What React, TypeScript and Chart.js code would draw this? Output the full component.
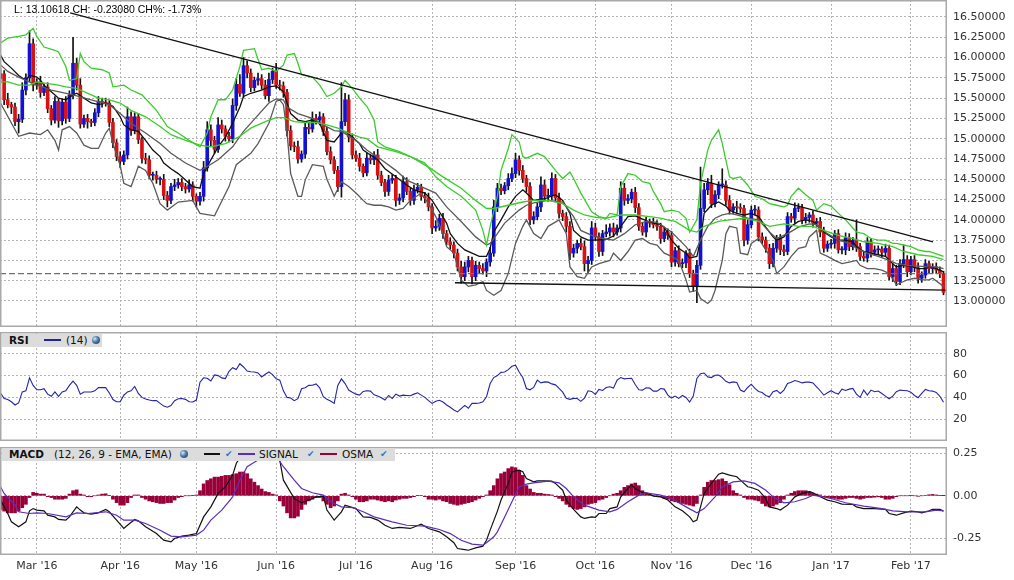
import React, { useEffect, useRef } from 'react';
import { Chart, registerables } from 'chart.js';

Chart.register(...registerables);

const FONT = 'DejaVu Sans';
const GRID = '#b4b4b4';
const BLUE = '#1212d4';
const RED = '#d81212';
const GREEN = '#3acc2c';

// USD/ZAR daily candles, one per weekday, 16 Feb 2016 .. 14 Feb 2017
const firstOpen = 15.74;
const closes = [
  15.80, 15.48, 15.42, 15.39, 15.21, 15.24, 15.60, 15.75, 16.17, 15.66,
  15.70, 15.57, 15.64, 15.37, 15.23, 15.46, 15.22, 15.45, 15.25, 15.54,
  15.93, 15.66, 15.18, 15.25, 15.21, 15.20, 15.32, 15.46, 15.45, 15.44,
  15.20, 14.95, 14.78, 14.72, 14.80, 15.27, 15.10, 15.27, 14.99, 14.76,
  14.74, 14.55, 14.55, 14.50, 14.50, 14.30, 14.24, 14.41, 14.43, 14.46,
  14.41, 14.38, 14.43, 14.29, 14.23, 14.29, 14.64, 15.11, 14.98, 14.87,
  15.17, 15.12, 15.03, 15.00, 15.41, 15.67, 15.56, 15.90, 15.81, 15.63,
  15.72, 15.74, 15.66, 15.53, 15.73, 15.83, 15.66, 15.65, 15.57, 15.10,
  14.91, 14.90, 14.75, 14.81, 15.14, 15.12, 15.25, 15.23, 15.27, 15.09,
  14.84, 14.74, 14.61, 14.41, 15.21, 15.48, 15.02, 14.80, 14.76, 14.66,
  14.58, 14.76, 14.74, 14.80, 14.55, 14.46, 14.35, 14.49, 14.51, 14.24,
  14.27, 14.47, 14.35, 14.24, 14.37, 14.40, 14.29, 14.27, 14.16, 13.90,
  13.92, 14.02, 13.83, 13.73, 13.69, 13.59, 13.42, 13.30, 13.42, 13.50,
  13.30, 13.44, 13.40, 13.37, 13.48, 13.59, 14.16, 14.39, 14.36, 14.42,
  14.51, 14.57, 14.74, 14.61, 14.51, 14.41, 14.00, 14.04, 14.16, 14.43,
  14.29, 14.30, 14.51, 14.27, 14.08, 14.04, 13.92, 13.59, 13.65, 13.71,
  13.67, 13.46, 13.50, 13.90, 13.79, 13.61, 13.83, 13.85, 13.90, 13.85,
  13.90, 14.39, 14.24, 14.26, 14.34, 14.15, 13.92, 13.85, 13.98, 13.96,
  13.94, 13.92, 13.77, 13.85, 13.81, 13.48, 13.62, 13.46, 13.47, 13.59,
  13.34, 13.18, 13.44, 14.14, 14.37, 14.45, 14.20, 14.31, 14.43, 14.43,
  14.24, 14.12, 14.16, 14.15, 14.14, 13.75, 13.94, 14.12, 14.12, 13.79,
  13.75, 13.65, 13.46, 13.65, 13.77, 13.63, 13.61, 14.04, 14.02, 14.14,
  14.15, 14.00, 14.03, 14.06, 13.96, 13.98, 13.85, 13.65, 13.70, 13.71,
  13.83, 13.63, 13.63, 13.78, 13.67, 13.75, 13.67, 13.55, 13.53, 13.73,
  13.60, 13.63, 13.64, 13.60, 13.65, 13.30, 13.40, 13.24, 13.46, 13.51,
  13.36, 13.51, 13.41, 13.28, 13.32, 13.46, 13.40, 13.42, 13.38, 13.33698,
  13.10618,
];
// wick lengths above / below the body, in hundredths
const upWick = [
  6, 4, 8, 3, 5, 6, 9, 5, 16, 6, 4, 7, 3, 5, 4, 6, 3, 4, 7, 5,
  32, 6, 8, 4, 5, 3, 5, 6, 4, 5, 3, 5, 4, 6, 5, 12, 6, 5, 4, 3,
  6, 5, 4, 5, 3, 6, 5, 4, 7, 5, 5, 4, 6, 4, 3, 5, 8, 10, 6, 5,
  9, 6, 4, 5, 8, 7, 12, 10, 6, 5, 4, 7, 5, 6, 8, 4, 10, 6, 5, 4,
  6, 5, 7, 4, 6, 5, 8, 5, 6, 4, 5, 6, 4, 5, 48, 8, 6, 4, 5, 6,
  3, 6, 5, 4, 7, 5, 4, 6, 5, 4, 5, 7, 5, 4, 6, 5, 4, 5, 6, 4,
  7, 5, 6, 4, 5, 4, 5, 7, 6, 5, 4, 5, 4, 6, 4, 7, 8, 6, 5, 4,
  6, 7, 8, 5, 6, 4, 5, 6, 5, 10, 6, 8, 7, 5, 6, 4, 5, 6, 5, 4,
  6, 7, 5, 8, 6, 5, 4, 9, 5, 6, 4, 8, 6, 5, 4, 6, 5, 4, 5, 3,
  6, 5, 4, 6, 4, 5, 4, 6, 5, 3, 5, 4, 6, 51, 8, 6, 10, 5, 4, 20,
  5, 6, 4, 7, 5, 4, 6, 5, 6, 4, 5, 4, 5, 6, 4, 5, 6, 5, 4, 7,
  5, 4, 5, 3, 5, 4, 5, 6, 4, 5, 4, 5, 4, 6, 5, 3, 25, 4, 6, 5,
  4, 5, 4, 3, 5, 4, 6, 4, 5, 18, 5, 4, 5, 6, 4, 5, 3, 4, 5, 4,
  3,
];
const downWick = [
  5, 6, 4, 8, 5, 14, 4, 6, 5, 7, 5, 6, 4, 5, 6, 4, 8, 5, 6, 4,
  5, 6, 5, 4, 8, 5, 4, 5, 6, 4, 5, 6, 5, 8, 4, 5, 6, 4, 5, 6,
  5, 4, 6, 5, 7, 5, 8, 4, 5, 4, 5, 5, 4, 6, 7, 5, 6, 4, 7, 5,
  4, 5, 6, 4, 5, 6, 4, 5, 6, 5, 4, 6, 5, 4, 7, 5, 4, 5, 6, 7,
  5, 6, 5, 4, 5, 6, 4, 5, 6, 5, 4, 5, 4, 6, 13, 5, 6, 5, 4, 6,
  5, 4, 5, 6, 5, 4, 6, 5, 4, 7, 5, 5, 4, 6, 5, 4, 5, 6, 5, 7,
  4, 5, 6, 4, 5, 6, 5, 8, 5, 6, 9, 5, 6, 4, 7, 5, 4, 6, 5, 4,
  5, 4, 5, 6, 5, 7, 6, 5, 4, 6, 5, 6, 5, 4, 6, 5, 7, 8, 5, 6,
  4, 9, 12, 5, 4, 6, 5, 4, 5, 6, 4, 5, 6, 4, 5, 6, 5, 4, 6, 5,
  4, 5, 6, 4, 5, 6, 5, 4, 5, 6, 5, 6, 20, 5, 4, 6, 5, 4, 5, 4,
  6, 5, 4, 6, 5, 7, 5, 4, 6, 5, 4, 5, 6, 4, 5, 6, 5, 4, 5, 6,
  4, 5, 4, 6, 5, 4, 6, 5, 4, 5, 6, 4, 5, 6, 5, 4, 6, 5, 4, 5,
  6, 4, 5, 6, 5, 4, 6, 5, 4, 5, 6, 4, 5, 6, 5, 4, 5, 6, 4, 5,
  3,
];

const monthDays = [10, 33, 54, 76, 98, 119, 142, 164, 185, 207, 229, 251];
const monthLabels = ["Mar '16", "Apr '16", "May '16", "Jun '16", "Jul '16", "Aug '16", "Sep '16", "Oct '16", "Nov '16", "Dec '16", "Jan '17", "Feb '17"];
const priceTicks = [13, 13.25, 13.5, 13.75, 14, 14.25, 14.5, 14.75, 15, 15.25, 15.5, 15.75, 16, 16.25, 16.5];
const rsiTicks = [20, 40, 60, 80];
const macdTicks = [-0.25, 0, 0.25];

const prevClose = 13.33698;
const lastClose = 13.10618;

// envelope lines on the price panel (day index, value)
const greenUpperDays = [0,2,5,7,9,10,12,15,16,18,19,21,22,23,25,28,30,31,34,36,39,43,46,49,52,55,57,58,60,62,64,66,67,70,72,74,76,78,79,81,82,83,86,88,90,92,94,95,97,99,101,103,104,106,110,113,117,120,123,127,131,133,134,135,137,138,140,141,143,144,145,148,150,153,155,157,158,160,163,165,167,168,170,171,173,175,177,179,180,182,183,185,187,189,190,192,193,195,196,198,199,201,202,204,206,208,210,212,214,216,217,218,220,222,224,225,227,229,231,233,235,236,238,240,242,244,246,247,249,251,253,255,256,258,260];
const greenUpper = [16.18,16.24,16.26,16.28,16.36,16.26,16.13,16.09,16.07,15.89,15.72,15.74,16.05,15.95,15.87,15.85,15.81,15.64,15.66,15.60,15.54,15.35,15.15,15.07,14.98,14.90,15.07,15.27,15.48,15.48,15.60,15.89,16.09,16.11,15.85,15.87,15.83,15.91,16.03,16.05,15.93,15.79,15.76,15.66,15.52,15.56,15.64,15.72,15.62,15.50,15.40,15.23,14.96,14.90,14.84,14.78,14.70,14.53,14.41,14.29,14.12,13.87,13.69,13.92,14.29,14.61,14.88,15.05,14.96,14.78,14.76,14.82,14.78,14.61,14.51,14.59,14.51,14.33,14.10,14.04,14.02,14.08,14.06,14.41,14.57,14.55,14.47,14.45,14.35,14.20,14.10,14.12,14.10,14.02,13.85,14.00,14.45,14.86,14.98,15.11,14.94,14.53,14.51,14.53,14.43,14.29,14.26,14.20,14.18,14.16,14.18,14.29,14.39,14.31,14.24,14.12,14.20,14.17,14.08,14.00,13.90,13.85,13.83,13.77,13.75,13.75,13.71,13.71,13.69,13.67,13.63,13.61,13.61,13.58,13.55];

const greenMidDays = [0,2,5,8,10,13,16,18,21,23,27,30,33,36,40,44,47,51,55,58,62,66,69,73,76,78,81,84,87,90,93,96,99,101,104,109,113,118,122,127,131,134,136,140,144,147,151,155,158,161,164,167,171,175,179,182,184,186,190,192,194,198,201,205,209,212,216,220,224,227,231,235,238,242,246,249,253,257,260];
const greenMid = [15.70,15.70,15.66,15.66,15.70,15.68,15.66,15.64,15.62,15.58,15.50,15.48,15.44,15.35,15.27,15.15,15.05,14.98,14.92,14.90,14.94,15.03,15.13,15.21,15.26,15.26,15.21,15.20,15.20,15.17,15.13,15.07,15.02,15.00,14.90,14.84,14.78,14.65,14.53,14.39,14.24,14.14,14.14,14.18,14.22,14.24,14.24,14.20,14.12,14.06,14.03,14.02,14.06,14.06,14.04,14.02,14.00,13.98,13.87,13.85,13.92,13.98,14.00,14.02,13.98,13.92,13.95,13.92,13.92,13.87,13.81,13.77,13.73,13.71,13.67,13.61,13.57,13.55,13.51];

const blackDays = [0,1,3,5,7,8,10,11,12,14,16,18,20,21,23,25,27,29,31,33,34,36,38,40,42,44,45,47,49,51,53,55,56,58,60,62,64,66,67,69,72,74,76,78,79,80,82,84,86,88,90,92,94,95,97,99,100,102,104,106,109,112,114,117,119,121,123,124,126,128,130,132,134,135,136,138,140,142,144,145,147,150,153,155,157,158,160,162,164,167,169,171,173,175,178,180,182,183,185,187,189,190,192,193,194,196,198,200,201,203,205,207,209,211,213,214,216,218,220,222,224,225,227,229,231,233,235,236,238,240,242,244,246,247,249,251,253,255,256,258,260];
const blackLine = [16.03,15.95,15.87,15.78,15.72,15.78,15.76,15.72,15.66,15.58,15.50,15.48,15.54,15.56,15.50,15.44,15.42,15.44,15.40,15.27,15.17,15.11,15.09,14.98,14.86,14.78,14.70,14.63,14.57,14.49,14.41,14.39,14.57,14.74,14.90,15.02,15.19,15.39,15.52,15.56,15.60,15.64,15.65,15.58,15.44,15.31,15.23,15.21,15.23,15.19,14.98,14.96,15.07,15.09,15.02,14.94,14.86,14.80,14.74,14.63,14.53,14.43,14.37,14.33,14.24,14.10,13.96,13.83,13.71,13.63,13.59,13.55,13.55,13.65,13.85,14.00,14.16,14.29,14.37,14.33,14.24,14.26,14.31,14.24,14.08,13.87,13.79,13.75,13.75,13.76,13.80,13.92,14.04,14.05,13.99,13.96,13.94,13.91,13.75,13.65,13.59,13.53,13.55,13.75,14.08,14.18,14.22,14.17,14.12,14.08,14.06,14.08,14.04,13.91,13.79,13.75,13.79,13.92,13.98,14.00,13.98,13.94,13.85,13.79,13.75,13.75,13.73,13.67,13.61,13.59,13.57,13.55,13.46,13.42,13.44,13.43,13.40,13.40,13.42,13.40,13.36];

const grayMidDays = [0,2,5,9,14,20,25,30,33,36,40,44,47,51,55,56,60,64,67,71,74,76,78,79,82,86,89,92,94,98,101,105,109,112,116,120,123,127,131,134,135,137,139,141,143,145,147,151,155,158,160,163,166,169,172,175,178,181,185,189,191,193,195,197,199,201,203,206,209,212,214,217,220,223,225,228,231,234,236,239,242,245,247,250,253,256,258,260];
const grayMid = [15.91,15.83,15.76,15.68,15.60,15.54,15.48,15.42,15.31,15.19,15.07,14.94,14.82,14.70,14.61,14.63,14.74,14.90,15.09,15.29,15.44,15.49,15.48,15.39,15.31,15.25,15.17,15.10,15.09,14.98,14.86,14.74,14.61,14.49,14.41,14.33,14.16,13.98,13.79,13.69,13.71,13.83,13.96,14.04,14.12,14.18,14.21,14.24,14.22,14.04,13.87,13.81,13.77,13.75,13.83,13.94,13.98,13.97,13.85,13.67,13.55,13.75,13.92,14.02,14.06,14.08,14.06,14.02,14.00,13.85,13.77,13.83,13.91,13.95,13.94,13.83,13.75,13.71,13.65,13.59,13.55,13.50,13.46,13.44,13.43,13.42,13.42,13.40];

const grayLowerDays = [0,5,8,11,13,15,16,17,19,21,23,25,27,29,30,31,33,34,36,37,38,40,42,44,46,49,53,55,59,63,65,69,71,74,76,77,78,79,80,82,83,84,86,89,90,92,94,96,98,100,101,103,105,107,109,111,113,116,118,120,122,123,125,127,129,131,133,134,136,138,140,142,144,145,147,149,151,154,156,157,159,161,163,165,168,169,171,173,175,177,179,181,183,185,187,189,190,192,193,195,196,197,199,200,201,203,204,206,207,209,211,213,214,216,218,220,222,223,225,226,228,230,232,234,236,237,239,241,243,245,247,249,250,252,254,256,257,260];
const grayLower = [15.44,15.03,15.07,15.05,15.11,14.98,14.86,15.11,15.15,15.07,14.92,14.88,14.88,15.07,15.13,14.94,14.67,14.45,14.41,14.53,14.66,14.61,14.45,14.20,14.12,14.22,14.24,14.08,14.05,14.41,14.68,14.82,14.94,15.19,15.46,15.48,15.42,15.07,14.57,14.29,14.29,14.49,14.68,14.66,14.50,14.29,14.47,14.41,14.33,14.24,14.20,14.18,14.18,14.16,14.12,14.14,14.24,14.33,14.20,14.04,13.83,13.67,13.59,13.26,13.18,13.20,13.24,13.13,13.07,13.13,13.34,13.71,13.92,14.00,13.83,13.77,13.92,14.00,13.83,13.42,13.30,13.28,13.42,13.46,13.50,13.59,13.50,13.61,13.75,13.77,13.71,13.69,13.59,13.55,13.50,13.26,13.11,13.13,13.03,12.97,13.01,13.13,13.50,13.83,13.92,13.90,13.59,13.57,13.71,13.77,13.63,13.50,13.34,13.42,13.55,13.65,13.67,13.79,13.87,13.59,13.55,13.50,13.46,13.48,13.50,13.44,13.40,13.40,13.38,13.34,13.20,13.24,13.26,13.28,13.26,13.26,13.28,13.18];

// trend lines drawn on the chart
const upperTrendDays = [19.2, 257.1];
const upperTrend = [16.55, 13.73];
const lowerTrendDays = [125.3, 261];
const lowerTrend = [13.225, 13.135];

// RSI (14), one value per day
const rsi = [
  44, 39, 38, 36, 33, 35, 45, 46, 58, 51, 47, 47, 48, 43, 41, 45, 41, 45, 46, 51,
  55, 51, 43, 45, 45, 45, 46, 49, 49, 49, 44, 38, 36, 36, 42, 45, 46, 50, 43.6, 40,
  38.5, 37.6, 37, 37, 34.5, 32, 31, 32.5, 37, 38.8, 39, 38.2, 36, 35.8, 37.6, 54, 58, 57.6, 55, 60.6,
  60, 57.9, 57.3, 64, 67.3, 65.5, 70.9, 67.9, 64.2, 63.6, 63.3, 62.4, 58.8, 61.2, 63.3, 60.9, 57, 55.8, 46, 40,
  39.4, 37, 38.8, 47.9, 48.8, 51, 51.2, 52.4, 48.8, 40.6, 38.2, 36.7, 34.5, 51, 57, 52.7, 46.7, 44.8, 43, 42.1,
  45.5, 46.1, 45.8, 42.4, 41.2, 39.7, 37.6, 41.8, 39.1, 43, 41.2, 42.1, 41.8, 41.5, 43, 44.2, 42.1, 40, 37, 34.5,
  36.4, 37.3, 35.8, 33, 30.9, 28.5, 26.7, 29.7, 32.7, 30, 34.5, 34.5, 34.8, 36, 40.6, 52.7, 58.2, 60, 63, 63.3,
  65.5, 68.5, 69.5, 63.3, 58.2, 48.2, 47, 49.1, 55.8, 53.3, 54.2, 54, 52.4, 51.5, 48.2, 44.8, 39.1, 38.2, 39.1, 39,
  36.4, 39.4, 46.1, 45.5, 42.7, 47.3, 46.4, 49.1, 49.7, 48.5, 55.8, 58.2, 57, 57.3, 57.6, 51.8, 47, 46.7, 48.8, 48.5,
  45.8, 45.8, 48.2, 47.6, 42.1, 39.4, 41.2, 39.1, 41.8, 40, 35.8, 41.2, 57.3, 61.8, 62.4, 58.8, 58.2, 60.3, 60.6, 58.2,
  54.8, 53.3, 54.2, 53.6, 46.7, 45.2, 49.1, 52.1, 48.2, 45.5, 44.5, 41.8, 40.6, 45.2, 46.4, 43.6, 46.7, 52.7, 54, 55.5,
  54.5, 53.3, 54, 54, 53.3, 49.7, 46.1, 42.1, 44.2, 46.1, 44.2, 43, 47.6, 46.4, 47.6, 48.2, 43, 40, 46.7, 42.1,
  46.7, 45.2, 45.8, 43.6, 41.2, 38.8, 41.2, 45.2, 46.7, 46.4, 46.1, 44.8, 41.8, 39.7, 43.6, 47.3, 46.1, 45.8, 44.5, 41,
  35.5,
];

// MACD (12, 26, 9)
const macdDays = [0,2,3,5,7,8,9,10,12,13,15,16,18,19,21,22,23,25,27,29,30,32,34,35,37,38,40,43,45,47,48,50,52,54,56,58,60,62,64,65,67,69,72,73,75,77,78,81,83,85,87,89,90,92,94,95,98,100,102,104,106,108,110,113,116,118,121,123,125,126,128,129,131,133,134,135,137,138,140,141,143,144,145,147,148,150,152,153,155,156,158,160,161,163,164,165,167,168,170,171,173,174,175,177,178,180,182,184,186,188,190,191,192,193,194,196,198,199,201,203,204,206,207,209,211,212,214,215,217,219,221,223,224,226,228,230,232,235,236,238,241,244,245,247,249,251,253,254,256,257,259,260];
const macdLine = [-0.025,-0.104,-0.153,-0.182,-0.153,-0.088,-0.075,-0.084,-0.088,-0.114,-0.124,-0.139,-0.143,-0.124,-0.065,-0.084,-0.100,-0.108,-0.100,-0.080,-0.094,-0.143,-0.192,-0.173,-0.139,-0.147,-0.182,-0.222,-0.261,-0.271,-0.251,-0.237,-0.231,-0.222,-0.124,-0.065,0.014,0.053,0.122,0.190,0.259,0.265,0.249,0.245,0.229,0.210,0.092,-0.016,-0.041,-0.025,-0.006,-0.002,-0.084,-0.143,-0.094,-0.055,-0.075,-0.124,-0.127,-0.143,-0.173,-0.192,-0.186,-0.192,-0.167,-0.192,-0.212,-0.241,-0.276,-0.310,-0.316,-0.320,-0.306,-0.296,-0.261,-0.202,-0.090,-0.025,0.073,0.141,0.151,0.141,0.102,0.082,0.088,0.088,0.086,0.073,0.033,-0.025,-0.080,-0.124,-0.133,-0.124,-0.127,-0.104,-0.104,-0.075,-0.065,-0.006,0.043,0.063,0.043,0.018,0.018,-0.002,-0.006,-0.025,-0.065,-0.088,-0.124,-0.153,-0.143,-0.065,0.014,0.073,0.127,0.135,0.122,0.112,0.092,0.053,0.049,0.033,-0.016,-0.065,-0.075,-0.084,-0.055,-0.006,0.014,0.024,0.018,-0.006,-0.025,-0.035,-0.049,-0.051,-0.065,-0.075,-0.075,-0.080,-0.104,-0.114,-0.100,-0.090,-0.094,-0.100,-0.088,-0.080,-0.080,-0.090];
const signalDays = [0,1,4,5,8,10,13,18,21,24,29,32,34,37,40,44,47,50,54,56,58,61,64,66,68,71,74,76,78,81,83,86,89,91,94,97,100,103,108,112,117,121,124,127,130,133,134,136,137,139,141,143,145,147,151,154,156,158,161,165,168,170,173,176,178,182,185,189,192,194,197,199,202,205,208,211,213,216,219,222,224,229,233,238,243,246,250,255,258,260];
const signalLine = [0.053,0.014,-0.055,-0.094,-0.104,-0.100,-0.104,-0.124,-0.100,-0.104,-0.094,-0.114,-0.143,-0.143,-0.163,-0.202,-0.237,-0.241,-0.231,-0.202,-0.143,-0.084,-0.006,0.092,0.171,0.210,0.229,0.233,0.171,0.092,0.043,0.018,0.004,-0.035,-0.065,-0.069,-0.094,-0.124,-0.153,-0.173,-0.178,-0.198,-0.222,-0.261,-0.284,-0.290,-0.276,-0.241,-0.212,-0.124,-0.035,0.053,0.069,0.076,0.086,0.076,0.043,-0.006,-0.055,-0.084,-0.094,-0.080,-0.035,0.004,0.018,0.004,-0.016,-0.065,-0.100,-0.075,-0.006,0.053,0.082,0.088,0.073,0.033,-0.006,-0.041,-0.035,-0.016,0.004,-0.016,-0.041,-0.061,-0.075,-0.088,-0.094,-0.094,-0.084,-0.088];
// OSMA histogram, one bar per day
const osma = [
  -0.08, -0.09, -0.1, -0.1, -0.1, -0.09, -0.07, -0.05, -0.01, 0.02, 0.015, 0.01, 0.01, -0.005, -0.01, -0.02, -0.02, -0.02, -0.015, 0.01,
  0.03, 0.035, 0.01, 0.005, -0.005, -0.005, 0, 0.005, 0.01, 0.012, 0.002, -0.02, -0.04, -0.055, -0.055, -0.04, -0.01, 0.005, 0.005, -0.01,
  -0.02, -0.03, -0.035, -0.04, -0.045, -0.045, -0.04, -0.04, -0.025, -0.01, -0.005, 0, 0, 0.002, 0.005, 0.03, 0.07, 0.09, 0.1, 0.11,
  0.11, 0.115, 0.12, 0.12, 0.125, 0.13, 0.14, 0.14, 0.13, 0.1, 0.08, 0.06, 0.04, 0.025, 0.02, 0.01, 0.005, -0.03, -0.06, -0.1,
  -0.13, -0.13, -0.12, -0.08, -0.05, -0.03, -0.02, -0.01, -0.01, -0.03, -0.05, -0.07, -0.06, -0.03, 0.01, 0.015, 0.005, -0.005, -0.02, -0.035,
  -0.035, -0.03, -0.02, -0.02, -0.025, -0.03, -0.035, -0.03, -0.035, -0.025, -0.02, -0.015, -0.015, -0.01, -0.005, 0.002, 0.003, -0.005, -0.02, -0.02,
  -0.025, -0.02, -0.03, -0.035, -0.045, -0.05, -0.055, -0.05, -0.045, -0.04, -0.035, -0.025, -0.015, -0.005, 0.005, 0.03, 0.06, 0.1, 0.13, 0.14,
  0.16, 0.17, 0.165, 0.15, 0.12, 0.06, 0.04, 0.02, 0.015, 0.015, 0.01, 0.008, 0.005, -0.005, -0.015, -0.03, -0.05, -0.065, -0.075, -0.08,
  -0.075, -0.065, -0.05, -0.045, -0.04, -0.025, -0.02, -0.01, 0, 0.01, 0.015, 0.03, 0.05, 0.06, 0.07, 0.075, 0.06, 0.03, 0.015, 0.01,
  0.005, 0, -0.005, -0.015, -0.02, -0.03, -0.035, -0.04, -0.045, -0.05, -0.055, -0.06, -0.045, 0.005, 0.05, 0.08, 0.09, 0.09, 0.095, 0.1,
  0.085, 0.065, 0.03, 0.015, 0.005, -0.01, -0.02, -0.02, -0.025, -0.03, -0.045, -0.06, -0.065, -0.06, -0.05, -0.04, -0.02, 0.005, 0.015, 0.025,
  0.03, 0.03, 0.03, 0.025, 0.015, 0.01, 0.005, -0.005, -0.01, -0.015, -0.015, -0.02, -0.02, -0.015, -0.01, -0.01, -0.015, -0.02, -0.015, -0.01,
  -0.01, -0.008, -0.006, -0.01, -0.02, -0.02, -0.015, -0.005, 0, 0, 0, 0.002, 0, -0.002, 0, 0.003, 0.006, 0.008, 0.005, 0.002,
  0.001,
];

const X_MIN = -0.14;
const X_MAX = 260.96;

const opens = closes.map((c, i) => (i === 0 ? firstOpen : closes[i - 1]));
const highs = closes.map((c, i) => Math.max(opens[i], c) + upWick[i] / 100);
const lows = closes.map((c, i) => Math.min(opens[i], c) - downWick[i] / 100);

const pts = (days: number[], vals: number[]) => days.map((d, i) => ({ x: d, y: vals[i] }));

const line = (data: any[], color: string, width = 1.3, extra: any = {}) => ({
  type: 'line',
  data,
  borderColor: color,
  borderWidth: width,
  pointRadius: 0,
  tension: 0,
  fill: false,
  order: 0,
  ...extra,
});

const framePlugin = {
  id: 'frame',
  afterDraw(chart: any) {
    const { ctx, chartArea: a } = chart;
    ctx.save();
    ctx.strokeStyle = '#a9a9a9';
    ctx.lineWidth = 1.5;
    ctx.strokeRect(a.left + 0.75, a.top + 0.75, a.right - a.left - 1.5, a.bottom - a.top - 1.5);
    ctx.restore();
  },
};

const xScale = (labels: boolean) => ({
  type: 'linear',
  min: X_MIN,
  max: X_MAX,
  offset: false,
  afterBuildTicks: (s: any) => { s.ticks = monthDays.map((v) => ({ value: v })); },
  afterFit: (s: any) => { s.height = labels ? 25 : 0; s.paddingLeft = 0; s.paddingRight = 0; },
  grid: { color: GRID, drawTicks: false, offset: false },
  border: { display: false, dash: [2, 2] },
  ticks: {
    display: labels,
    autoSkip: false,
    maxRotation: 0,
    padding: 5,
    color: '#333',
    font: { family: FONT, size: 11 },
    callback: (v: number) => monthLabels[monthDays.indexOf(v)] ?? '',
  },
});

const yScale = (min: number, max: number, ticks: number[], fmt: (v: number) => string) => ({
  type: 'linear',
  position: 'right',
  min,
  max,
  afterBuildTicks: (s: any) => { s.ticks = ticks.map((v) => ({ value: v })); },
  afterFit: (s: any) => { s.width = 67; s.paddingTop = 0; s.paddingBottom = 0; },
  grid: { color: GRID, drawTicks: false },
  border: { display: false, dash: [2, 2] },
  ticks: { padding: 6, color: '#333', font: { family: FONT, size: 11 }, callback: fmt },
});

const baseOptions = {
  animation: false,
  responsive: true,
  maintainAspectRatio: false,
  events: [],
  layout: { padding: 0 },
  plugins: { legend: { display: false }, tooltip: { enabled: false } },
};

function priceConfig(): any {
  const bodyColors = closes.map((c, i) => (c >= opens[i] ? BLUE : RED));
  return {
    type: 'bar',
    data: {
      datasets: [
        line(pts(upperTrendDays, upperTrend), '#111', 1.3),
        line(pts(lowerTrendDays, lowerTrend), '#111', 1.3),
        line(pts([X_MIN, X_MAX], [prevClose, prevClose]), '#707070', 1.2, { borderDash: [6, 3] }),
        line(pts(greenUpperDays, greenUpper), GREEN, 1.3),
        line(pts(greenMidDays, greenMid), GREEN, 1.3),
        line(pts(grayLowerDays, grayLower), '#5a5a5a', 1.3),
        line(pts(grayMidDays, grayMid), '#5a5a5a', 1.3),
        line(pts(blackDays, blackLine), '#111', 1.3),
        {
          type: 'bar',
          data: closes.map((c, i) => ({ x: i, y: [opens[i], c] })),
          backgroundColor: bodyColors,
          borderWidth: 0,
          barThickness: 3,
          grouped: false,
          minBarLength: 1,
          order: 1,
        },
        {
          type: 'bar',
          data: closes.map((_, i) => ({ x: i, y: [lows[i], highs[i]] })),
          backgroundColor: '#111',
          borderWidth: 0,
          barThickness: 1,
          grouped: false,
          order: 2,
        },
      ],
    },
    options: {
      ...baseOptions,
      scales: {
        x: xScale(false),
        y: yScale(12.6795, 16.7095, priceTicks, (v) => Number(v).toFixed(5)),
      },
    },
    plugins: [framePlugin],
  };
}

function rsiConfig(): any {
  return {
    type: 'line',
    data: { datasets: [line(rsi.map((v, i) => ({ x: i, y: v })), '#2424a8', 1.1)] },
    options: {
      ...baseOptions,
      scales: { x: xScale(false), y: yScale(0, 100, rsiTicks, (v) => String(v)) },
    },
    plugins: [framePlugin],
  };
}

function macdConfig(): any {
  return {
    type: 'bar',
    data: {
      datasets: [
        line(pts(signalDays, signalLine), '#5b2dbf', 1.2),
        line(pts(macdDays, macdLine), '#111', 1.2),
        {
          type: 'bar',
          data: osma.map((v, i) => ({ x: i, y: v })),
          backgroundColor: '#99003a',
          borderWidth: 0,
          barThickness: 3,
          grouped: false,
          order: 1,
        },
      ],
    },
    options: {
      ...baseOptions,
      scales: { x: xScale(true), y: yScale(-0.348, 0.287, macdTicks, (v) => Number(v).toFixed(2)) },
    },
    plugins: [framePlugin],
  };
}

const Globe = ({ left }: { left: number }) => (
  <span style={{ position: 'absolute', left, top: 2, width: 8, height: 8, borderRadius: '50%', background: 'radial-gradient(circle at 35% 35%, #d8e8f5 0%, #4a7aa8 45%, #1d3048 100%)' }} />
);

const Check = ({ left }: { left: number }) => (
  <span style={{ position: 'absolute', left, top: 0, fontSize: 9, lineHeight: '13px', color: '#2b72d6' }}>✔</span>
);

const Swatch = ({ left, width, color }: { left: number; width: number; color: string }) => (
  <span style={{ position: 'absolute', left, top: 5, width, height: 2, background: color }} />
);

const Txt = ({ left, bold, children }: { left: number; bold?: boolean; children: React.ReactNode }) => (
  <span style={{ position: 'absolute', left, top: 0, lineHeight: '13px', fontSize: 10.5, fontWeight: bold ? 'bold' : 'normal', color: '#111', whiteSpace: 'nowrap' }}>{children}</span>
);

export default function App() {
  const priceRef = useRef<HTMLCanvasElement>(null!);
  const rsiRef = useRef<HTMLCanvasElement>(null!);
  const macdRef = useRef<HTMLCanvasElement>(null!);

  useEffect(() => {
    const charts = [
      new Chart(priceRef.current, priceConfig()),
      new Chart(rsiRef.current, rsiConfig()),
      new Chart(macdRef.current, macdConfig()),
    ];
    return () => charts.forEach((c) => c.destroy());
  }, []);

  const change = lastClose - prevClose;
  const pct = (change / prevClose) * 100;

  return (
    <div style={{ position: 'fixed', left: 0, top: 0, width: 1014, height: 580, background: '#fff', overflow: 'hidden', fontFamily: FONT }}>
      <div style={{ position: 'absolute', left: 0, top: 0, width: 1014, height: 327 }}>
        <canvas ref={priceRef} />
      </div>
      <div style={{ position: 'absolute', left: 0, top: 332, width: 1014, height: 109 }}>
        <canvas ref={rsiRef} />
      </div>
      <div style={{ position: 'absolute', left: 0, top: 447, width: 1014, height: 133 }}>
        <canvas ref={macdRef} />
      </div>

      <div style={{ position: 'absolute', left: 14, top: 3, fontFamily: 'Liberation Sans, Arial, sans-serif', fontSize: 10.5, color: '#000', whiteSpace: 'nowrap' }}>
        {`L: ${lastClose.toFixed(5)} CH: ${change.toFixed(5)} CH%: ${pct.toFixed(2)}%`}
      </div>

      <div style={{ position: 'absolute', left: 2, top: 334, width: 100, height: 13, background: '#dcdcdc' }}>
        <Txt left={7} bold>RSI</Txt>
        <Swatch left={42} width={17} color="#22229a" />
        <Txt left={64}>(14)</Txt>
        <Globe left={90} />
      </div>

      <div style={{ position: 'absolute', left: 2, top: 448, width: 393, height: 13, background: '#dcdcdc' }}>
        <Txt left={7} bold>MACD</Txt>
        <Txt left={52}>(12, 26, 9 - EMA, EMA)</Txt>
        <Globe left={178} />
        <Swatch left={202} width={16} color="#111" />
        <Check left={223} />
        <Swatch left={236} width={17} color="#5b2dbf" />
        <Txt left={257}>SIGNAL</Txt>
        <Check left={305} />
        <Swatch left={318} width={17} color="#99003a" />
        <Txt left={340}>OSMA</Txt>
        <Check left={378} />
      </div>
    </div>
  );
}
